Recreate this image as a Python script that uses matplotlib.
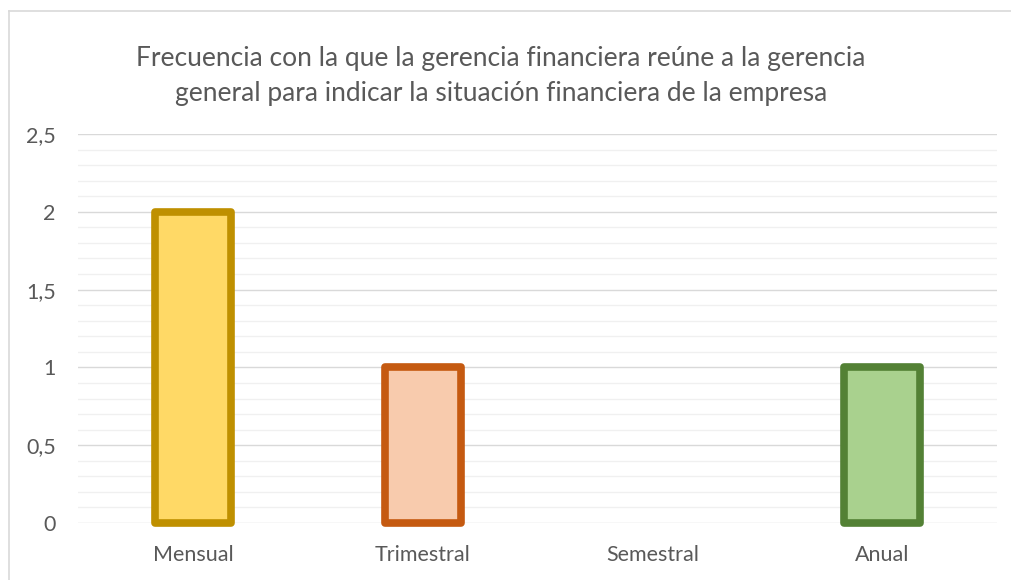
import numpy as np
from matplotlib import pyplot as plt
from matplotlib.lines import Line2D

# datos
categorias = ["Mensual", "Trimestral", "Semestral", "Anual"]
valores = [2, 1, 0, 1]
colores_relleno = ["#FFD966", "#F8CBAD", "#DBDBDB", "#A9D18E"]
colores_borde = ["#BF9000", "#C55A11", "#7B7B7B", "#538135"]
ticks_y = [0, 0.5, 1, 1.5, 2, 2.5]
etiquetas_y = ["0", "0,5", "1", "1,5", "2", "2,5"]
titulo = ("Frecuencia con la que la gerencia financiera reúne a la gerencia\n"
          "general para indicar la situación financiera de la empresa")

plt.rcParams['font.family'] = ['Lato', 'DejaVu Sans']

fig = plt.figure(figsize=(10.11, 5.8), dpi=100)
W, H = 1011, 580
ax = fig.add_axes([78 / W, 57 / H, (997 - 78) / W, (523 - 134) / H])

x = np.arange(len(categorias))
anchos_borde = [5.5 if v > 0 else 0 for v in valores]
barras = ax.bar(x, valores, width=0.33, color=colores_relleno,
                edgecolor=colores_borde, linewidth=anchos_borde, zorder=3)
for b in barras:
    b.set_clip_on(False)
    b.set_joinstyle("round")

ax.set_xlim(-0.5, len(categorias) - 0.5)
ax.set_ylim(0, 2.5)
ax.set_yticks(ticks_y)
ax.set_yticklabels(etiquetas_y)
ax.set_yticks(np.arange(0, 2.51, 0.1), minor=True)
ax.set_xticks(x)
ax.set_xticklabels(categorias)

ax.grid(axis="y", which="major", color="#D9D9D9", linewidth=1.0, zorder=0)
ax.grid(axis="y", which="minor", color="#F0F0F0", linewidth=1.0, zorder=0)
ax.set_axisbelow(True)
for s in ax.spines.values():
    s.set_visible(False)
ax.tick_params(axis="both", which="both", length=0, colors="#595959", labelsize=15.5)
ax.tick_params(axis="y", pad=16)
ax.tick_params(axis="x", pad=16)

fig.text(501 / W, 1 - 76 / H, titulo, ha="center", va="center",
         fontsize=19, color="#595959", linespacing=1.5)

# borde del gráfico
fig.add_artist(Line2D([8.5 / W, 8.5 / W], [0, 1 - 10.5 / H], color="#D9D9D9", linewidth=1.2))
fig.add_artist(Line2D([8.5 / W, 1], [1 - 10.5 / H, 1 - 10.5 / H], color="#D9D9D9", linewidth=1.2))

plt.savefig("out.png", dpi=100)
